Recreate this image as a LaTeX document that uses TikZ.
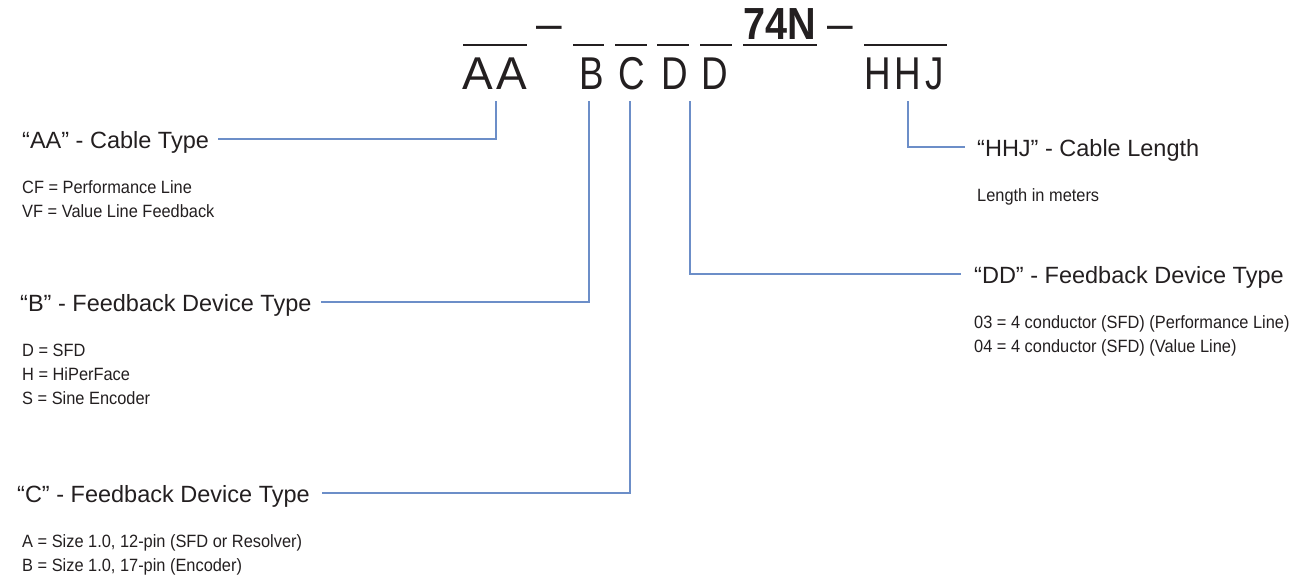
\documentclass[tikz,border=0pt]{standalone}
\usepackage{fontspec}
\setmainfont{Liberation Sans}
\newfontfamily\hdcond[FakeStretch=0.8]{Liberation Sans}
\newfontfamily\hdbold[FakeStretch=0.88]{Liberation Sans}
\newfontfamily\optfont[FakeStretch=0.92]{Liberation Sans}
\usetikzlibrary{calc}
\definecolor{ink}{HTML}{231F20}
\definecolor{conn}{HTML}{6C8EC8}
\begin{document}
\begin{tikzpicture}[x=1pt,y=1pt,
  txt/.style={anchor=base west,inner sep=0pt,text=ink},
  ttl/.style={txt,font=\fontsize{23.5}{28}\selectfont},
  opt/.style={txt,font=\fontsize{17.8}{20}\optfont},
  hd/.style={anchor=base,inner sep=0pt,text=ink,font=\fontsize{46}{50}\selectfont},
  hdc/.style={anchor=base,inner sep=0pt,text=ink,font=\fontsize{46}{50}\hdcond},
  hdb/.style={anchor=base,inner sep=0pt,text=ink,font=\fontsize{45}{50}\hdbold\bfseries},
  bar/.style={line width=2.6pt,draw=ink},
  link/.style={draw=conn,line width=1.4pt}]
\useasboundingbox (0,0) rectangle (1302,-581);
% header code
\node[hd]  (hA1) at (477.5,-89) {A};
\node[hd]  (hA2) at (512,-89) {A};
\node[hd]  (dash1) at (549.5,-39.6) {–};
\node[hdc] (hB)  at (591.5,-89) {B};
\node[hdc] (hC)  at (632,-89) {C};
\node[hdc] (hD1) at (674.5,-89) {D};
\node[hdc] (hD2) at (714.5,-89) {D};
\node[hdb] (h74) at (780,-39) {74N};
\node[hd]  (dash2) at (840,-39.6) {–};
\node[hdc] (hH1) at (878,-89) {H};
\node[hdc] (hH2) at (908,-89) {H};
\node[hdc] (hJ)  at (935,-89) {J};
% bars
\draw[bar] (463,-45) -- (527,-45);
\draw[bar] (573,-45) -- (604,-45);
\draw[bar] (615,-45) -- (647,-45);
\draw[bar] (657,-45) -- (689,-45);
\draw[bar] (700,-45) -- (732,-45);
\draw[bar] (743,-45) -- (817,-45);
\draw[bar] (864,-45) -- (947,-45);
% connector start points
\coordinate (kAA) at (496,-101);
\coordinate (kB)  at (589,-101);
\coordinate (kC)  at (630,-101);
\coordinate (kD)  at (690,-101);
\coordinate (kH)  at (908,-101);
% left column
\node[ttl] (ttlAA) at (22,-148) {“AA” - Cable Type};
\node[opt] (oCF) at (22,-193) {CF = Performance Line};
\node[opt] (oVF) at (22,-217) {VF = Value Line Feedback};
\node[ttl] (ttlB) at (20,-311) {“B” - Feedback Device Type};
\node[opt] (oD) at (22,-356) {D = SFD};
\node[opt] (oH) at (22,-380) {H = HiPerFace};
\node[opt] (oS) at (22,-404) {S = Sine Encoder};
\node[ttl] (ttlC) at (17,-502) {“C” - Feedback Device Type};
\node[opt] (oA) at (22,-547) {A = Size 1.0, 12-pin (SFD or Resolver)};
\node[opt] (oB) at (22,-571) {B = Size 1.0, 17-pin (Encoder)};
% right column
\node[ttl] (ttlHHJ) at (977,-156) {“HHJ” - Cable Length};
\node[opt] (oLen) at (977,-201) {Length in meters};
\node[ttl] (ttlDD) at (974,-283) {“DD” - Feedback Device Type};
\node[opt] (o03) at (974,-328) {03 = 4 conductor (SFD) (Performance Line)};
\node[opt] (o04) at (974,-352) {04 = 4 conductor (SFD) (Value Line)};
% connectors
\draw[link] (kAA) |- ($(ttlAA.base east)+(9,9)$);
\draw[link] (kB)  |- ($(ttlB.base east)+(9,9)$);
\draw[link] (kC)  |- ($(ttlC.base east)+(12,9)$);
\draw[link] (kD)  |- ($(ttlDD.base west)+(-13,9)$);
\draw[link] (kH)  |- ($(ttlHHJ.base west)+(-12,9)$);
\end{tikzpicture}
\end{document}
